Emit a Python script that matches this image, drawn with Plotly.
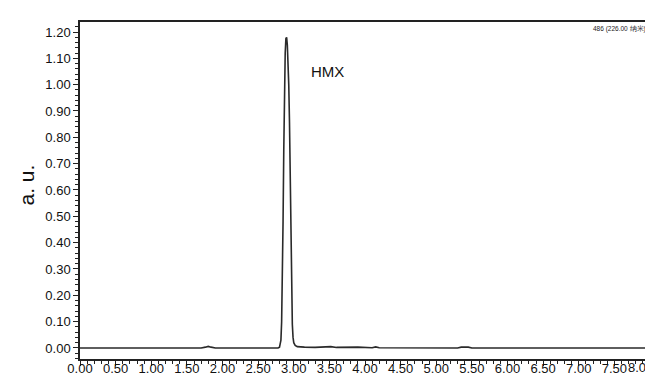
import plotly.graph_objects as go

# Chromatogram data (retention time in min, absorbance in a.u.)
time = [0.00, 1.00, 1.70, 1.76, 1.80, 1.84, 1.90, 2.50, 2.78, 2.80, 2.82, 2.83, 2.84, 2.85,
        2.86, 2.87, 2.88, 2.89, 2.90, 2.91, 2.92, 2.93, 2.94, 2.95, 2.96, 2.97, 2.98,
        2.99, 3.00, 3.02, 3.05, 3.15, 3.30, 3.45, 3.52, 3.60, 3.70, 3.90, 4.10, 4.15,
        4.20, 4.50, 5.30, 5.35, 5.45, 5.50, 6.50, 8.00]
signal = [0.000, 0.000, 0.000, 0.003, 0.006, 0.003, 0.000, 0.000, 0.000, 0.003, 0.030, 0.100,
          0.250, 0.480, 0.750, 0.980, 1.120, 1.175, 1.180, 1.150, 1.080, 1.000, 0.860,
          0.620, 0.380, 0.200, 0.090, 0.040, 0.020, 0.010, 0.005, 0.003, 0.002, 0.004,
          0.005, 0.002, 0.003, 0.003, 0.001, 0.004, 0.001, 0.000, 0.000, 0.003, 0.003,
          0.000, 0.000, 0.000]

x_ticks = [0.0, 0.5, 1.0, 1.5, 2.0, 2.5, 3.0, 3.5, 4.0, 4.5, 5.0, 5.5, 6.0, 6.5, 7.0, 7.5, 8.0]
y_ticks = [0.0, 0.1, 0.2, 0.3, 0.4, 0.5, 0.6, 0.7, 0.8, 0.9, 1.0, 1.1, 1.2]

peak_label = "HMX"
peak_label_pos = (3.18, 1.05)
channel_label = "486 (226.00 纳米)"
y_title = "a. u."

FONT = "Arial, Liberation Sans, sans-serif"

fig = go.Figure()
fig.add_trace(go.Scatter(x=time, y=signal, mode="lines",
                         line=dict(color="#2a2a2a", width=1.6), showlegend=False,
                         hoverinfo="skip"))

axis_font = dict(family=FONT, size=13, color="#111111")

# last x label is drawn separately, shifted inside the figure as in the original
x_text = [f"{v:.2f}" for v in x_ticks[:-1]] + [""]

fig.update_xaxes(range=[0, 8], tickvals=x_ticks, ticktext=x_text, automargin=False,
                 ticklabelstandoff=-8,
                 showgrid=False, zeroline=False, showline=True, linecolor="#222222",
                 linewidth=1.5, mirror=True, ticks="outside", ticklen=5, tickwidth=1,
                 tickcolor="#222222", tickfont=axis_font,
                 minor=dict(dtick=0.1, tick0=0, ticks="outside", ticklen=3,
                            tickcolor="#222222", tickwidth=1, showgrid=False))
fig.update_yaxes(range=[-0.042, 1.238], tickvals=y_ticks, ticktext=[f"{v:.2f}" for v in y_ticks],
                 automargin=False,
                 showgrid=False, zeroline=False, showline=True, linecolor="#222222",
                 linewidth=1.5, mirror=True, ticks="outside", ticklen=5, tickwidth=1,
                 tickcolor="#222222", tickfont=axis_font,
                 minor=dict(dtick=0.02, tick0=0, ticks="outside", ticklen=3,
                            tickcolor="#222222", tickwidth=1, showgrid=False))

fig.add_annotation(x=x_ticks[-1], y=0, xref="x", yref="paper", text=f"{x_ticks[-1]:.2f}",
                   showarrow=False, xanchor="right", yanchor="middle", xshift=4, yshift=-8,
                   borderpad=0, font=axis_font)
fig.add_annotation(x=peak_label_pos[0], y=peak_label_pos[1], text=peak_label, showarrow=False,
                   xanchor="left", yanchor="middle", bgcolor="white", borderpad=3,
                   font=dict(family=FONT, size=15, color="#111111"))
fig.add_annotation(x=1, y=1, xref="paper", yref="paper", text=channel_label,
                   showarrow=False, xanchor="right", yanchor="top", xshift=-2, yshift=-1,
                   font=dict(family=FONT, size=6.5, color="#222222"))
fig.add_annotation(x=0, y=0.5, xref="paper", yref="paper", text=y_title, showarrow=False,
                   textangle=-90, xanchor="center", yanchor="middle", xshift=-54, yshift=5,
                   font=dict(family=FONT, size=21, color="#111111"))

fig.update_layout(width=653, height=376, margin=dict(l=72, r=11, t=14, b=25),
                  plot_bgcolor="white", paper_bgcolor="white")

fig.write_html("out.html")
